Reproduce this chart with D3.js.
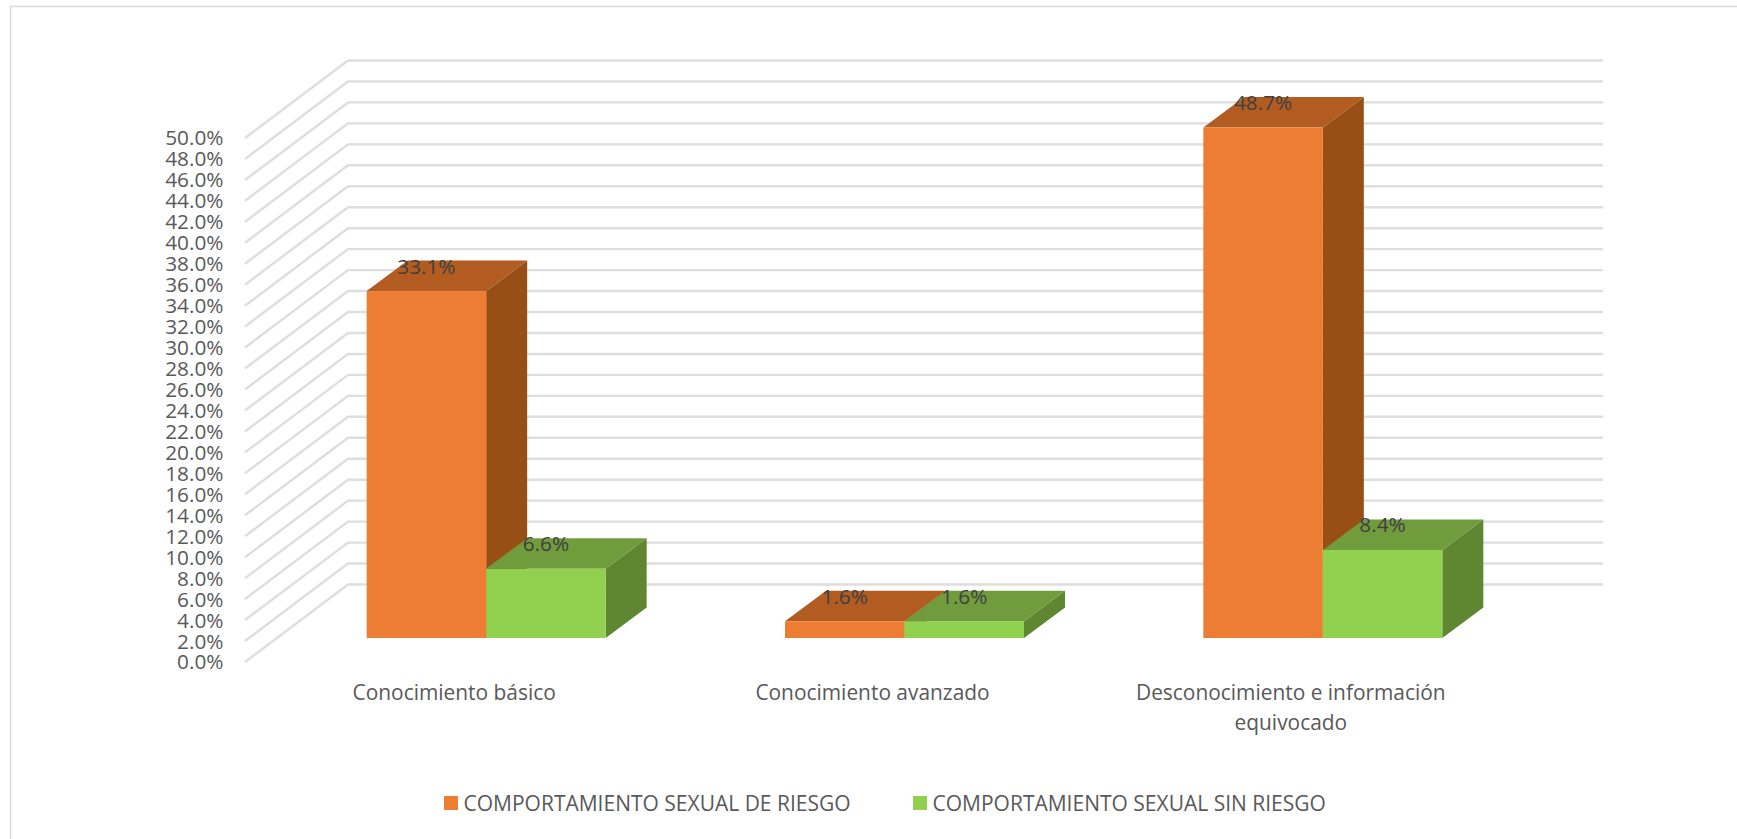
<!DOCTYPE html>
<html><head><meta charset="utf-8">
<style>html,body{margin:0;padding:0;background:#fff}svg{display:block}text{font-family:"Open Sans",sans-serif}</style>
<script src="https://cdn.jsdelivr.net/npm/d3@7"></script></head>
<body><svg id="c" width="1737" height="839"></svg>
<script>
const categories = ["Conocimiento básico", "Conocimiento avanzado", "Desconocimiento e información equivocado"];
const categoryLines = [["Conocimiento básico"], ["Conocimiento avanzado"], ["Desconocimiento e información", "equivocado"]];
const seriesNames = ["COMPORTAMIENTO SEXUAL DE RIESGO", "COMPORTAMIENTO SEXUAL SIN RIESGO"];
const riesgo = [33.1, 1.6, 48.7];
const sinRiesgo = [6.6, 1.6, 8.4];
const ticks = d3.range(0, 51, 2);

const svg = d3.select("#c");
svg.append("defs").append("filter").attr("id", "soft")
  .attr("x", "-5%").attr("y", "-5%").attr("width", "110%").attr("height", "110%")
  .append("feGaussianBlur").attr("stdDeviation", 0.6);

const x = d3.scaleBand().domain(categories).range([245, 1500]);
const y = d3.scaleLinear().domain([0, 50]).range([662, 138]);
const wall = {dx: 103, dy: -77.5};
const barPlane = {dx: 32, dy: -24};
const barDepth = {dx: 41, dy: -30.5};
const barW = 119.5;
const series = [
  {name: seriesNames[0], values: riesgo, front: "#ED7D31", top: "#B35C20", side: "#985019"},
  {name: seriesNames[1], values: sinRiesgo, front: "#92D050", top: "#6F9C3C", side: "#5F8732"}
];

// frame
svg.append("path").attr("d", "M10.5,839V6.5H1737").attr("fill", "none").attr("stroke", "#dcdcdc").attr("stroke-width", 1.5);

// grid
const grid = svg.append("g").attr("fill", "none").attr("stroke", "#dedede").attr("filter", "url(#soft)");
ticks.forEach(t => {
  grid.append("path").attr("stroke-width", 2.4)
    .attr("d", d3.line()([[245, y(t)], [245 + wall.dx, y(t) + wall.dy], [x.range()[1] + wall.dx, y(t) + wall.dy]]));
});

// y tick labels
svg.append("g").selectAll("text").data(ticks).join("text")
  .attr("x", 223.5).attr("y", d => y(d)).attr("dy", "0.36em").attr("text-anchor", "end")
  .attr("font-size", 20.8).attr("fill", "#595959").text(d => d.toFixed(1) + "%");

// bars
const line = d3.line();
const bars = svg.append("g").attr("filter", "url(#soft)");
categories.forEach((c, i) => {
  const mid = x(c) + x.bandwidth() / 2 + barPlane.dx;
  series.forEach((s, k) => {
    const x0 = mid + (k - 1) * barW, x1 = x0 + barW;
    const y0 = y(0) + barPlane.dy, y1 = y(s.values[i]) + barPlane.dy;
    const g = bars.append("g");
    g.append("path").attr("fill", s.side).attr("d", line([[x1, y0], [x1 + barDepth.dx, y0 + barDepth.dy], [x1 + barDepth.dx, y1 + barDepth.dy], [x1, y1]]) + "Z");
    g.append("path").attr("fill", s.top).attr("d", line([[x0, y1], [x0 + barDepth.dx, y1 + barDepth.dy], [x1 + barDepth.dx, y1 + barDepth.dy], [x1, y1]]) + "Z");
    g.append("rect").attr("x", x0).attr("y", y1).attr("width", barW).attr("height", y0 - y1).attr("fill", s.front);
  });
});

// data labels (on top of all bars)
categories.forEach((c, i) => {
  const mid = x(c) + x.bandwidth() / 2 + barPlane.dx;
  series.forEach((s, k) => {
    svg.append("text").attr("x", mid + (k - 0.5) * barW).attr("y", y(s.values[i]) + barPlane.dy - 25)
      .attr("dy", "0.36em").attr("text-anchor", "middle").attr("font-size", 20.8).attr("fill", "#404040")
      .text(s.values[i].toFixed(1) + "%");
  });
});

// category labels
categories.forEach((c, i) => {
  categoryLines[i].forEach((l, j) => {
    svg.append("text").attr("x", x(c) + x.bandwidth() / 2).attr("y", 692 + j * 30).attr("dy", "0.36em")
      .attr("text-anchor", "middle").attr("font-size", 20.9).attr("fill", "#595959").text(l);
  });
});

// legend
const legendX = [444, 913];
series.forEach((s, k) => {
  svg.append("rect").attr("x", legendX[k]).attr("y", 796).attr("width", 14).attr("height", 14).attr("fill", s.front);
  svg.append("text").attr("x", legendX[k] + 19.5).attr("y", 803).attr("dy", "0.36em")
    .attr("font-size", 21).attr("fill", "#595959").text(s.name);
});
</script></body></html>
